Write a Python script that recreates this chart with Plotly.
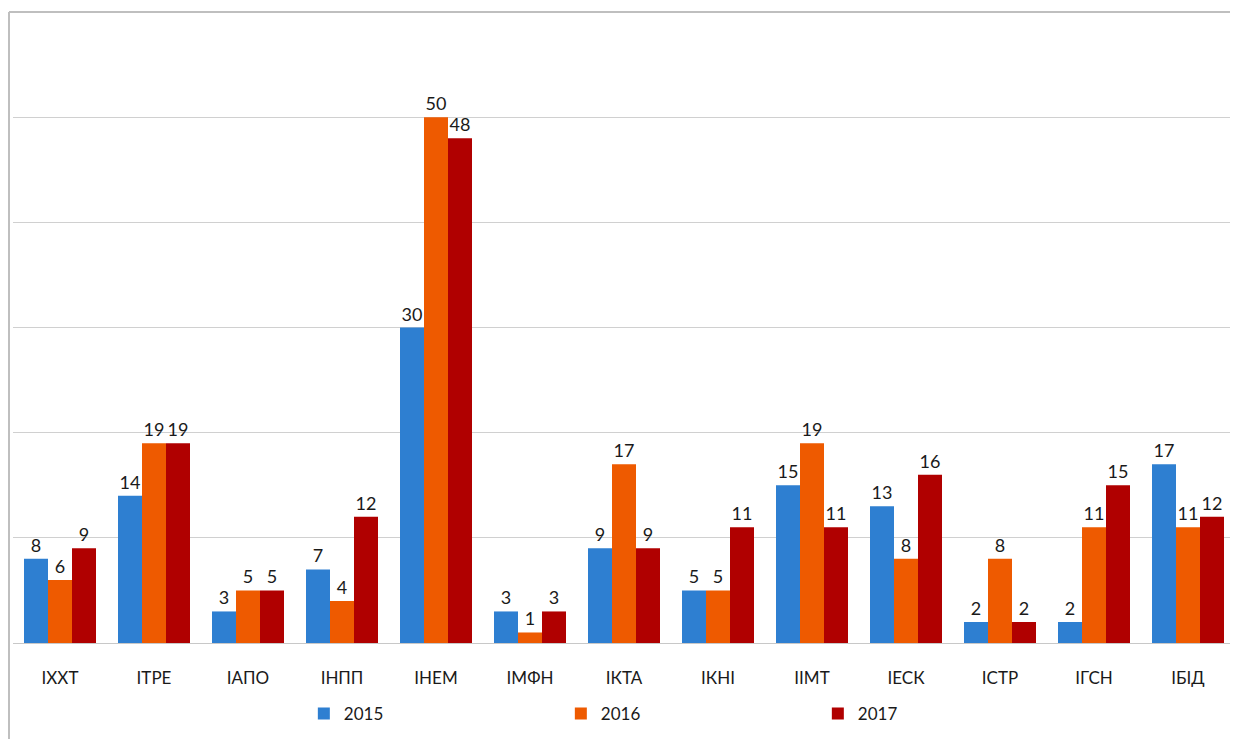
import plotly.graph_objects as go

# Categories and values per year
institutes = ['ІХХТ', 'ІТРЕ', 'ІАПО', 'ІНПП', 'ІНЕМ', 'ІМФН', 'ІКТА',
              'ІКНІ', 'ІІМТ', 'ІЕСК', 'ІСТР', 'ІГСН', 'ІБІД']
y2015 = [8, 14, 3, 7, 30, 3, 9, 5, 15, 13, 2, 2, 17]
y2016 = [6, 19, 5, 4, 50, 1, 17, 5, 19, 8, 8, 11, 11]
y2017 = [9, 19, 5, 12, 48, 3, 9, 11, 11, 16, 2, 15, 12]

years = ['2015', '2016', '2017']
colors = ['#2E7FD1', '#EE5A00', '#B00000']

fig = go.Figure()
for name, vals, col in zip(years, [y2015, y2016, y2017], colors):
    fig.add_trace(go.Bar(
        name=name, x=institutes, y=vals,
        marker=dict(color=col, line=dict(width=0)),
        text=vals, textposition='outside', cliponaxis=False,
        textfont=dict(size=18, color='#1A1A1A'),
    ))

# outer frame of the chart: only left and top edges are visible
frame = dict(type='line', xref='paper', yref='paper',
             line=dict(color='#BFBFBF', width=2), layer='below')

# page body has an 8px margin, so the figure is a bit smaller than the window
fig.update_layout(
    width=1230, height=731,
    barmode='group',
    bargap=0.234, bargroupgap=0,
    plot_bgcolor='white', paper_bgcolor='white',
    font=dict(family='Lato, Noto Sans, sans-serif', size=17, color='#1A1A1A'),
    margin=dict(l=5, r=3, t=4, b=96),
    legend=dict(
        orientation='h', x=0.238, y=-0.084, xanchor='left', yanchor='top',
        entrywidth=212, entrywidthmode='pixels',
        font=dict(size=17, color='#1A1A1A'),
        bgcolor='rgba(255,255,255,0)',
    ),
    shapes=[
        dict(frame, x0=-4 / 1222, x1=-4 / 1222, y0=-0.3, y1=1.0),
        dict(frame, x0=-4 / 1222, x1=1.05, y0=1.0, y1=1.0),
    ],
)

fig.update_xaxes(showline=True, linecolor='#C8C8C8', linewidth=1,
                 ticks='', tickfont=dict(size=17), ticklabelstandoff=20)
fig.update_yaxes(range=[0, 60], dtick=10, showgrid=True, gridcolor='#D0D0D0',
                 showticklabels=False, zeroline=False)

fig.write_html("out.html")
